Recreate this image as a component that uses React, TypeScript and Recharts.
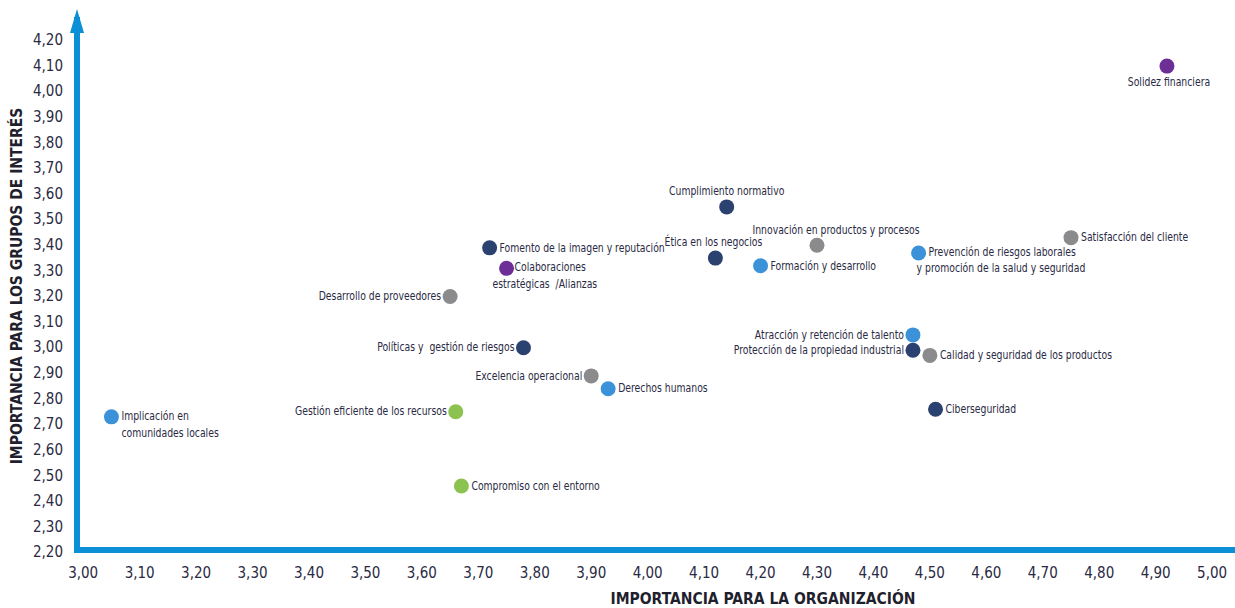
import { ReferenceDot, Scatter, ScatterChart, XAxis, YAxis } from 'recharts';

const X_TICKS = [3.0, 3.1, 3.2, 3.3, 3.4, 3.5, 3.6, 3.7, 3.8, 3.9, 4.0, 4.1, 4.2, 4.3, 4.4, 4.5, 4.6, 4.7, 4.8, 4.9, 5.0];
const Y_TICKS = [2.2, 2.3, 2.4, 2.5, 2.6, 2.7, 2.8, 2.9, 3.0, 3.1, 3.2, 3.3, 3.4, 3.5, 3.6, 3.7, 3.8, 3.9, 4.0, 4.1, 4.2];

// Each colour group: topic names, importance for the organisation (x), for stakeholders (y)
const navyTopics = [
  'Fomento de la imagen y reputación',
  'Políticas y  gestión de riesgos',
  'Cumplimiento normativo',
  'Ética en los negocios',
  'Protección de la propiedad industrial',
  'Ciberseguridad',
];
const navyOrg = [3.72, 3.78, 4.14, 4.12, 4.47, 4.51];
const navyStake = [3.38, 2.99, 3.54, 3.34, 2.98, 2.75];

const blueTopics = [
  'Implicación en\ncomunidades locales',
  'Derechos humanos',
  'Formación y desarrollo',
  'Prevención de riesgos laborales\ny promoción de la salud y seguridad',
  'Atracción y retención de talento',
];
const blueOrg = [3.05, 3.93, 4.2, 4.48, 4.47];
const blueStake = [2.72, 2.83, 3.31, 3.36, 3.04];

const greyTopics = [
  'Desarrollo de proveedores',
  'Excelencia operacional',
  'Innovación en productos y procesos',
  'Calidad y seguridad de los productos',
  'Satisfacción del cliente',
];
const greyOrg = [3.65, 3.9, 4.3, 4.5, 4.75];
const greyStake = [3.19, 2.88, 3.39, 2.96, 3.42];

const purpleTopics = ['Colaboraciones\nestratégicas  /Alianzas', 'Solidez financiera'];
const purpleOrg = [3.75, 4.92];
const purpleStake = [3.3, 4.09];

const greenTopics = ['Gestión eficiente de los recursos', 'Compromiso con el entorno'];
const greenOrg = [3.66, 3.67];
const greenStake = [2.74, 2.45];

const X_DOMAIN = [2.989, 5.037];
const Y_DOMAIN = [2.2, 4.27];

const AXIS_BLUE = '#0b8fd6';
const TEXT = '#2a2a44';
const FONT = "'DejaVu Sans Condensed', 'DejaVu Sans', sans-serif";

type Pt = { topic: string; org: number; stake: number };

const toPoints = (topics: string[], org: number[], stake: number[]): Pt[] =>
  topics.map((topic, i) => ({ topic, org: org[i], stake: stake[i] }));

const GROUPS = [
  { key: 'navy', color: '#2b4170', data: toPoints(navyTopics, navyOrg, navyStake) },
  { key: 'blue', color: '#3b92d8', data: toPoints(blueTopics, blueOrg, blueStake) },
  { key: 'grey', color: '#8b8b8e', data: toPoints(greyTopics, greyOrg, greyStake) },
  { key: 'purple', color: '#6d2f96', data: toPoints(purpleTopics, purpleOrg, purpleStake) },
  { key: 'green', color: '#8cc24f', data: toPoints(greenTopics, greenOrg, greenStake) },
];

// label placement next to each dot: anchor + per-line pixel offsets
type Line = { dx: number; dy: number };
type Place = { anchor: 'start' | 'middle' | 'end'; lines: Line[] };
const R = { anchor: 'start', lines: [{ dx: 10, dy: 0 }] } as Place;
const L = { anchor: 'end', lines: [{ dx: -9, dy: 0 }] } as Place;

const PLACE: Record<string, Place> = {
  'Implicación en\ncomunidades locales': { anchor: 'start', lines: [{ dx: 10, dy: -1 }, { dx: 10, dy: 16 }] },
  'Prevención de riesgos laborales\ny promoción de la salud y seguridad': {
    anchor: 'start',
    lines: [{ dx: 10, dy: -1 }, { dx: -2, dy: 15 }],
  },
  'Colaboraciones\nestratégicas  /Alianzas': { anchor: 'start', lines: [{ dx: 8, dy: -1 }, { dx: -14, dy: 16 }] },
  'Cumplimiento normativo': { anchor: 'middle', lines: [{ dx: 0, dy: -16 }] },
  'Ética en los negocios': { anchor: 'middle', lines: [{ dx: -2, dy: -16 }] },
  'Innovación en productos y procesos': { anchor: 'middle', lines: [{ dx: 19, dy: -15 }] },
  'Solidez financiera': { anchor: 'middle', lines: [{ dx: 2, dy: 16 }] },
  'Gestión eficiente de los recursos': L,
  'Desarrollo de proveedores': L,
  'Políticas y  gestión de riesgos': L,
  'Excelencia operacional': L,
  'Atracción y retención de talento': L,
  'Protección de la propiedad industrial': L,
};

function Dot(props: any) {
  const { cx, cy, fill, payload } = props;
  const place = PLACE[payload.topic] ?? R;
  const parts = String(payload.topic).split('\n');
  return (
    <g>
      <circle cx={cx} cy={cy} r={7.5} fill={fill} />
      {parts.map((t, i) => (
        <text
          key={i}
          transform={`translate(${cx + place.lines[i].dx} ${cy + place.lines[i].dy}) scale(0.86 1)`}
          textAnchor={place.anchor}
          dominantBaseline="central"
          fontFamily={FONT}
          fontSize={12}
          fill={TEXT}
          style={{ whiteSpace: 'pre' }}
        >
          {t}
        </text>
      ))}
    </g>
  );
}

function Arrow(props: any) {
  const { cx, cy } = props;
  return <polygon points={`${cx - 7},${cy + 13} ${cx + 7},${cy + 13} ${cx},${cy - 11}`} fill={AXIS_BLUE} />;
}

const fmt = (v: number) => v.toFixed(2).replace('.', ',');
const tick = { fontFamily: FONT, fontSize: 15, fill: TEXT };
const axisLine = { stroke: AXIS_BLUE, strokeWidth: 6, strokeLinecap: 'square' as const };

export default function App() {
  return (
    <div style={{ position: 'absolute', left: 0, top: 0, background: '#fff' }}>
      <ScatterChart width={1235} height={608} margin={{ top: 20, right: 2, bottom: 0, left: 0 }}>
        <XAxis
          type="number"
          dataKey="org"
          domain={X_DOMAIN}
          allowDataOverflow
          ticks={X_TICKS}
          interval={0}
          tickFormatter={fmt}
          tick={tick}
          tickLine={false}
          tickMargin={11}
          axisLine={axisLine}
          height={58}
          label={{
            content: () => (
              <text
                x={763}
                y={604}
                textAnchor="middle"
                fontFamily={FONT}
                fontWeight="bold"
                fontSize={15.5}
                fill="#1f1f2e"
              >
                IMPORTANCIA PARA LA ORGANIZACIÓN
              </text>
            ),
          }}
        />
        <YAxis
          type="number"
          dataKey="stake"
          domain={Y_DOMAIN}
          allowDataOverflow
          ticks={Y_TICKS}
          interval={0}
          tickFormatter={fmt}
          tick={{ ...tick, dy: 2 }}
          tickLine={false}
          tickMargin={8}
          axisLine={axisLine}
          width={77}
          label={{
            content: () => (
              <text
                x={17}
                y={286}
                transform="rotate(-90 17 286)"
                textAnchor="middle"
                dominantBaseline="central"
                fontFamily={FONT}
                fontWeight="bold"
                fontSize={15.5}
                fill="#1f1f2e"
              >
                IMPORTANCIA PARA LOS GRUPOS DE INTERÉS
              </text>
            ),
          }}
        />
        {GROUPS.map((g) => (
          <Scatter key={g.key} data={g.data} fill={g.color} shape={<Dot />} isAnimationActive={false} />
        ))}
        <ReferenceDot x={X_DOMAIN[0]} y={Y_DOMAIN[1]} ifOverflow="visible" shape={<Arrow />} />
      </ScatterChart>
    </div>
  );
}
